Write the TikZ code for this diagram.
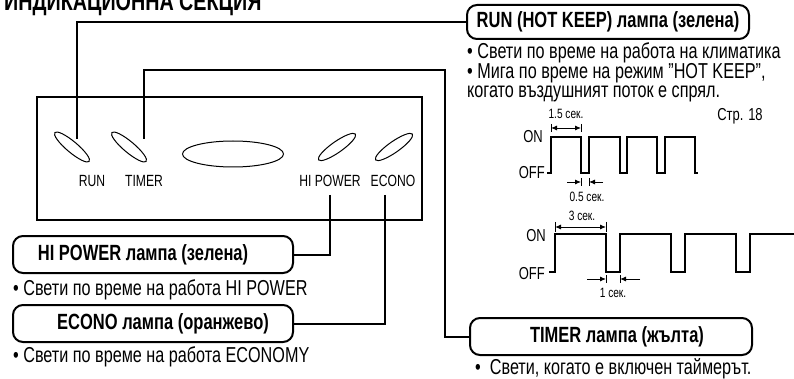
\documentclass[tikz,border=0pt]{standalone}
\usepackage{fontspec}
\setmainfont{Liberation Sans}[FakeStretch=0.75]
\usetikzlibrary{shapes.geometric,arrows.meta}
\begin{document}
\begin{tikzpicture}[x=1pt,y=-1pt,
  conn/.style={line width=2pt},
  lampbox/.style={draw,line width=2pt,rounded corners=10pt,minimum height=37pt,inner sep=0pt},
  boxlabel/.style={inner sep=0pt,font=\fontsize{22}{25}\selectfont\bfseries},
  lamp/.style={draw,ellipse,line width=1pt,inner sep=0pt,minimum width=45pt,minimum height=11pt},
  panel/.style={draw,line width=2pt,inner sep=0pt},
  plabel/.style={anchor=base,font=\fontsize{16.2}{18}\selectfont,inner sep=0pt},
  btxt/.style={anchor=base west,font=\fontsize{21.6}{24}\selectfont,inner sep=0pt},
  onoff/.style={anchor=base east,font=\fontsize{17.3}{19}\selectfont,inner sep=0pt},
  small/.style={anchor=base,font=\fontsize{13.5}{15}\selectfont,inner sep=0pt},
  wave/.style={line width=1.2pt},
  dim/.style={line width=0.9pt},
  dimtip/.style={line width=0.9pt,-{Latex[length=6pt,width=5pt]}},
]
\useasboundingbox (0,0) rectangle (794,379);

% title
\node[anchor=base west,inner sep=0pt,font=\fontsize{26.3}{29}\selectfont\bfseries] (title) at (4,11) {ИНДИКАЦИОННА СЕКЦИЯ};

% panel and lamps
\node[panel,minimum width=385pt,minimum height=123pt] (panel) at (229.5,158.5) {};
\node[lamp,rotate=-40] (erun) at (72,147) {};
\node[lamp,rotate=-40] (etimer) at (129,147) {};
\node[lamp,minimum width=101pt,minimum height=26pt] (edisp) at (233,154) {};
\node[lamp,rotate=35] (ehp) at (337,147) {};
\node[lamp,rotate=35] (eeco) at (394,147) {};

\node[plabel] (lrun) at (92,186.5) {RUN};
\node[plabel] (ltimer) at (144,186.5) {TIMER};
\node[plabel] (lhp) at (330,186.5) {HI POWER};
\node[plabel] (leco) at (393,186.5) {ECONO};

% lamp boxes
\node[lampbox,minimum width=282pt,minimum height=34pt] (runbox) at (608,22) {};
\node[boxlabel] (runlabel) at (608,22) {RUN (HOT KEEP) лампа (зелена)};
\node[lampbox,minimum width=280pt] (hpbox) at (153,254.5) {};
\node[boxlabel] (hplabel) at (143,254.5) {HI POWER лампа (зелена)};
\node[lampbox,minimum width=280pt] (ecobox) at (153,323.5) {};
\node[boxlabel] (ecolabel) at (163,323.5) {ECONO лампа (оранжево)};
\node[lampbox,minimum width=282pt] (timerbox) at (611,336.5) {};
\node[boxlabel] (timerlabel) at (617,336.5) {TIMER лампа (жълта)};

% connectors
\coordinate (runtop) at (77,139);
\coordinate (timertop) at (144,139);
\coordinate (tcorner) at (445,70);
\coordinate (hpbot) at (330,195);
\coordinate (ecobot) at (385,195);
\draw[conn] (runtop) |- (runbox.west);
\draw[conn] (timertop) |- (tcorner) |- (timerbox.west);
\draw[conn] (hpbot) |- (hpbox.east);
\draw[conn] (ecobot) |- (ecobox.east);

% texts
\node[btxt] (t1) at (467,59) {• Свети по време на работа на климатика};
\node[btxt] (t2) at (467,79) {• Мига по време на режим "HOT KEEP",};
\node[btxt] (t3) at (467,98) {когато въздушният поток е спрял.};
\node[btxt] (t4) at (13,295) {• Свети по време на работа HI POWER};
\node[btxt] (t5) at (13,362) {• Свети по време на работа ECONOMY};
\node[btxt] (t6) at (475,374) {•\ \ Свети, когато е включен таймерът.};
\node[anchor=base,inner sep=0pt,font=\fontsize{17.3}{19}\selectfont] (page) at (740,121) {Стр. 18};

% chart 1
\node[onoff] (on1) at (543,143) {ON};
\node[onoff] (off1) at (545,179) {OFF};
\draw[wave] (547,173) -- (551,173) -- (551,137) -- (581,137) -- (581,173) -- (589,173) -- (589,137)
  -- (620,137) -- (620,173) -- (627,173) -- (627,137) -- (657,137) -- (657,173) -- (665,173)
  -- (665,137) -- (695,137) -- (695,173) -- (698,173);
\node[small] (d15) at (566,119) {1.5 сек.};
\draw[dim] (551,124) -- (551,132);
\draw[dim] (581,124) -- (581,132);
\draw[dim,{Latex[length=6pt,width=5pt]}-{Latex[length=6pt,width=5pt]}] (551,128) -- (581,128);
\node[small] (d05) at (587,201.5) {0.5 сек.};
\draw[dim] (581,178) -- (581,186);
\draw[dim] (589,178) -- (589,186);
\draw[dimtip] (567,182) -- (581,182);
\draw[dimtip] (603,182) -- (589,182);

% chart 2
\node[onoff] (on2) at (546,241) {ON};
\node[onoff] (off2) at (545,279) {OFF};
\draw[wave] (549,272) -- (555,272) -- (555,234) -- (606,234) -- (606,272) -- (620,272) -- (620,234)
  -- (671,234) -- (671,272) -- (685,272) -- (685,234) -- (736,234) -- (736,272) -- (750,272)
  -- (750,234) -- (794,234);
\node[small] (d3) at (582,220.5) {3 сек.};
\draw[dim] (555,222) -- (555,232);
\draw[dim] (606,222) -- (606,232);
\draw[dim,{Latex[length=6pt,width=5pt]}-{Latex[length=6pt,width=5pt]}] (555,227) -- (606,227);
\node[small] (d1) at (613,297.5) {1 сек.};
\draw[dim] (606,275) -- (606,283);
\draw[dim] (620,275) -- (620,283);
\draw[dimtip] (587,279) -- (606,279);
\draw[dimtip] (640,279) -- (620,279);
\end{tikzpicture}
\end{document}
